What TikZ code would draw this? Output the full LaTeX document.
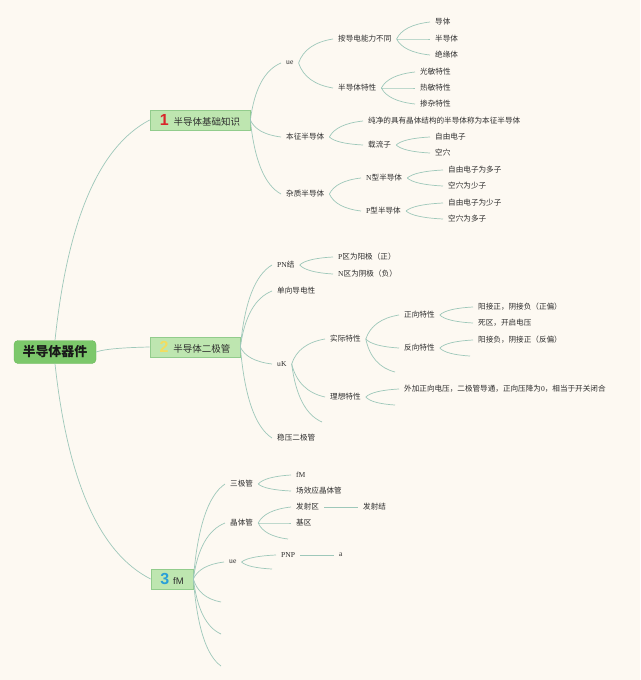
\documentclass[tikz,border=0pt]{standalone}
\usepackage{fontspec}
\setmainfont{Liberation Serif}
\newfontfamily\cjk{Noto Sans CJK SC}
\newfontfamily\numf{Liberation Sans}
\usetikzlibrary{calc}
\definecolor{bg}{HTML}{FDF9F2}
\definecolor{ink}{HTML}{2E2E2E}
\definecolor{linkc}{HTML}{9EC8BA}
\definecolor{rootfill}{HTML}{7CC86B}
\definecolor{rootedge}{HTML}{6CB85C}
\definecolor{boxfill}{HTML}{BEE6B0}
\definecolor{boxedge}{HTML}{92CC8C}
\definecolor{numred}{HTML}{D9262B}
\definecolor{numyel}{HTML}{F3DD5E}
\definecolor{numblue}{HTML}{2A9FD8}
\newcommand\bignum[2]{{\numf\bfseries\fontsize{16}{16}\selectfont\color{#1}#2}}

\begin{document}
\begin{tikzpicture}[x=1pt,y=-1pt,
  topic/.style={font=\cjk\fontsize{7.6}{9}\selectfont,text=ink,inner xsep=5pt,inner ysep=1pt,anchor=west},
  lat/.style={topic,font=\rmfamily\fontsize{7.6}{9}\selectfont},
  box/.style={draw=boxedge,fill=boxfill,line width=0.7pt,minimum height=20pt,inner xsep=3pt,font=\cjk\fontsize{9.5}{11}\selectfont,text=ink},
  link/.style={draw=linkc,line width=0.7pt,
    to path={let \p1=(\tikztostart),\p2=(\tikztotarget) in
      .. controls ({\x1+0.1333*(\x2-\x1)},{\y1+0.5467*(\y2-\y1)}) and ({\x2-0.5333*(\x2-\x1)},{\y2+0.12*(\y1-\y2)}) .. (\tikztotarget)}}]
  \fill[bg] (0,0) rectangle (640,680);
  \useasboundingbox (0,0) rectangle (640,680);

  % ===== root and main topics =====
  \node[draw=rootedge,fill=rootfill,rounded corners=4pt,minimum width=82pt,minimum height=23pt,
        font=\cjk\bfseries\fontsize{13}{15}\selectfont,text=black!90] (root) at (55,352) {半导体器件};
  \node[box,minimum width=100pt] (b1) at (200,120) {\bignum{numred}{1}\hspace{5pt}半导体基础知识};
  \node[box,minimum width=90pt] (b2) at (195,347) {\bignum{numyel}{2}\hspace{5pt}半导体二极管};
  \node[box,minimum width=42pt] (b3) at (172,579) {\bignum{numblue}{3}\hspace{4pt}{\numf fM}};
  \draw[link] (root.north) to (b1.west);
  \draw[link] (root.east) to (b2.west);
  \draw[link] (root.south) to (b3.west);

  % ===== branch 1 =====
  \node[lat] (ue1) at (281,63) {ue};
  \node[topic] (cond) at (333,39) {按导电能力不同};
  \node[topic] (c1) at (430,22) {导体};
  \node[topic] (c2) at (430,39) {半导体};
  \node[topic] (c3) at (430,55) {绝缘体};
  \node[topic] (prop) at (333,88) {半导体特性};
  \node[topic] (p1) at (415,72) {光敏特性};
  \node[topic] (p2) at (415,88) {热敏特性};
  \node[topic] (p3) at (415,104) {掺杂特性};
  \node[topic] (intr) at (281,137) {本征半导体};
  \node[topic] (def) at (363,121) {纯净的具有晶体结构的半导体称为本征半导体};
  \node[topic] (carr) at (363,145) {载流子};
  \node[topic] (el) at (430,137) {自由电子};
  \node[topic] (ho) at (430,153) {空穴};
  \node[topic] (dop) at (281,194) {杂质半导体};
  \node[topic] (ntype) at (361,178) {{\rmfamily N}型半导体};
  \node[topic] (ptype) at (361,211) {{\rmfamily P}型半导体};
  \node[topic] (n1) at (443,170) {自由电子为多子};
  \node[topic] (n2) at (443,186) {空穴为少子};
  \node[topic] (q1) at (443,203) {自由电子为少子};
  \node[topic] (q2) at (443,219) {空穴为多子};
  \foreach \a/\b in {b1/ue1,b1/intr,b1/dop,ue1/cond,ue1/prop,cond/c1,cond/c2,cond/c3,
      prop/p1,prop/p2,prop/p3,intr/def,intr/carr,carr/el,carr/ho,dop/ntype,dop/ptype,
      ntype/n1,ntype/n2,ptype/q1,ptype/q2}
    \draw[link] (\a.east) to (\b.west);

  % ===== branch 2 =====
  \node[topic] (pn) at (272,265) {{\rmfamily PN}结};
  \node[topic] (pa) at (333,257) {{\rmfamily P}区为阳极（正）};
  \node[topic] (na) at (333,274) {{\rmfamily N}区为阴极（负）};
  \node[topic] (uni) at (272,291) {单向导电性};
  \node[lat] (uk) at (272,364) {uK};
  \node[topic] (real) at (325,339) {实际特性};
  \node[topic] (fwd) at (399,315) {正向特性};
  \node[topic] (rev) at (399,348) {反向特性};
  \node[topic] (f1) at (473,307) {阳接正，阴接负（正偏）};
  \node[topic] (f2) at (473,323) {死区，开启电压};
  \node[topic] (r1) at (473,340) {阳接负，阴接正（反偏）};
  \node[topic] (ideal) at (325,397) {理想特性};
  \node[topic] (i1) at (399,389) {外加正向电压，二极管导通，正向压降为{\rmfamily 0}，相当于开关闭合};
  \node[topic] (zener) at (272,438) {稳压二极管};
  \coordinate (ereal) at (395,372);
  \coordinate (erev) at (470,356);
  \coordinate (eideal) at (395,405);
  \coordinate (euk) at (322,422);
  \foreach \a/\b in {b2/pn,b2/uni,b2/uk,b2/zener,pn/pa,pn/na,uk/real,uk/ideal,
      real/fwd,real/rev,fwd/f1,fwd/f2,rev/r1,ideal/i1}
    \draw[link] (\a.east) to (\b.west);
  \draw[link] (real.east) to (ereal);
  \draw[link] (rev.east) to (erev);
  \draw[link] (ideal.east) to (eideal);
  \draw[link] (uk.east) to (euk);

  % ===== branch 3 =====
  \node[topic] (tri) at (225,484) {三极管};
  \node[lat] (fm) at (291,475) {fM};
  \node[topic] (fet) at (291,491) {场效应晶体管};
  \node[topic] (tr) at (225,523) {晶体管};
  \node[topic] (emit) at (291,507) {发射区};
  \node[topic] (ej) at (358,507) {发射结};
  \node[topic] (base) at (291,523) {基区};
  \node[lat] (ue3) at (224,562) {ue};
  \node[lat] (pnp) at (276,555) {PNP};
  \node[lat] (aa) at (334,555) {a};
  \coordinate (etr) at (288,539);
  \coordinate (eue) at (272,569);
  \coordinate (e3a) at (221,602);
  \coordinate (e3b) at (221,634);
  \coordinate (e3c) at (221,666);
  \foreach \a/\b in {b3/tri,b3/tr,b3/ue3,tri/fm,tri/fet,tr/emit,tr/base,ue3/pnp}
    \draw[link] (\a.east) to (\b.west);
  \draw[link] (tr.east) to (etr);
  \draw[link] (ue3.east) to (eue);
  \foreach \c in {e3a,e3b,e3c}
    \draw[link] (b3.east) to (\c);
  \draw[linkc,line width=0.7pt] (emit.east) -- (ej.west);
  \draw[linkc,line width=0.7pt] (pnp.east) -- (aa.west);
\end{tikzpicture}
\end{document}
